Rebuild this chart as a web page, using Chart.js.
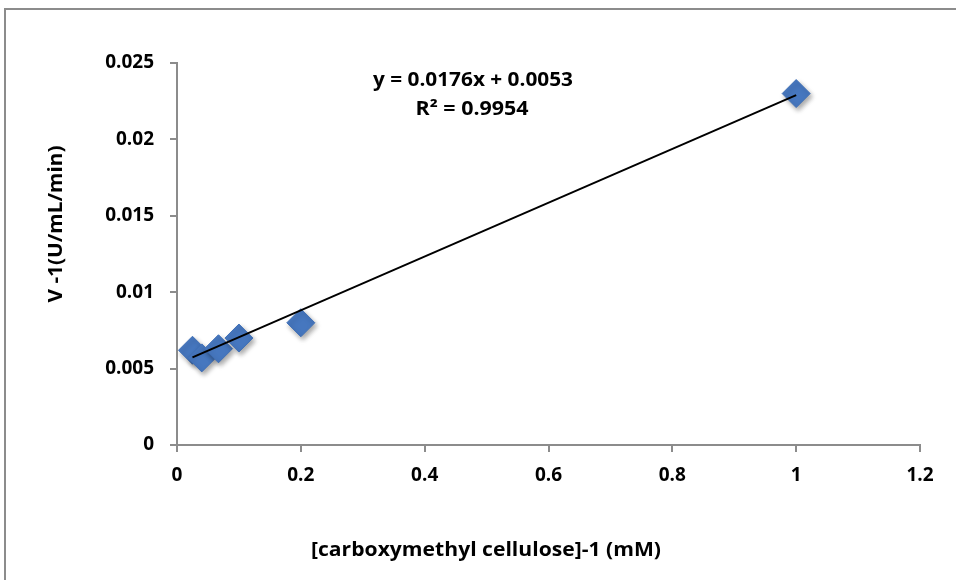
<!DOCTYPE html>
<html>
<head>
<meta charset="utf-8">
<script src="https://cdn.jsdelivr.net/npm/chart.js@4"></script>
<style>
  html, body { margin: 0; padding: 0; background: #fff; }
  #wrap { position: relative; width: 956px; height: 580px; }
  #frame {
    position: absolute; left: 4px; top: 8px; width: 1000px; height: 700px;
    border-left: 2px solid #8c8c8c; border-top: 2px solid #8c8c8c;
  }
  canvas { position: absolute; left: 0; top: 0; }
</style>
</head>
<body>
<div id="wrap">
  <div id="frame"></div>
  <canvas id="chart" width="956" height="580"></canvas>
</div>
<script>
// 1/[S] and 1/V
const substrateInv = [0.025, 0.04, 0.067, 0.1, 0.2, 1];
const velocityInv = [0.0062, 0.0057, 0.0063, 0.007, 0.008, 0.023];

// linear trendline as printed on the chart
const trendSlope = 0.0176;
const trendIntercept = 0.0053;
const equationLines = ['y = 0.0176x + 0.0053', 'R² = 0.9954'];

const xTickLabels = ['0', '0.2', '0.4', '0.6', '0.8', '1', '1.2'];
const yTickLabels = ['0', '0.005', '0.01', '0.015', '0.02', '0.025'];

const xTitle = '[carboxymethyl cellulose]-1 (mM)';
const yTitle = 'V -1(U/mL/min)';

const FONT = '"Open Sans", Lato, sans-serif';
const AXIS_GREY = '#8c8c8c';

const points = substrateInv.map((x, i) => ({ x: x, y: velocityInv[i] }));
const xMin = Math.min(...substrateInv);
const xMax = Math.max(...substrateInv);
const trend = [
  { x: xMin, y: trendSlope * xMin + trendIntercept },
  { x: xMax, y: trendSlope * xMax + trendIntercept },
];

const shadowPlugin = {
  id: 'markerShadow',
  beforeDatasetDraw(chart, args) {
    if (args.index !== 0) return;
    const ctx = chart.ctx;
    ctx.save();
    ctx.shadowColor = 'rgba(0,0,0,0.35)';
    ctx.shadowBlur = 5;
    ctx.shadowOffsetX = 2;
    ctx.shadowOffsetY = 3;
  },
  afterDatasetDraw(chart, args) {
    if (args.index !== 0) return;
    chart.ctx.restore();
  },
};

// text drawn a little wider, like the stretched original
function stretchedText(ctx, text, cx, cy, width) {
  const w = ctx.measureText(text).width;
  ctx.save();
  ctx.translate(cx, cy);
  ctx.scale(width / w, 1);
  ctx.fillText(text, 0, 0);
  ctx.restore();
}

const textPlugin = {
  id: 'freeText',
  afterDraw(chart) {
    const ctx = chart.ctx;
    ctx.save();
    ctx.fillStyle = '#000';
    ctx.font = 'bold 19px ' + FONT;
    ctx.textAlign = 'center';
    ctx.textBaseline = 'middle';
    stretchedText(ctx, equationLines[0], 473, 81, 200);
    stretchedText(ctx, equationLines[1], 472, 110, 113);
    stretchedText(ctx, xTitle, 486, 551, 350);
    ctx.translate(57, 224);
    ctx.rotate(-Math.PI / 2);
    stretchedText(ctx, yTitle, 0, 0, 157);
    ctx.restore();
  },
};

new Chart(document.getElementById('chart'), {
  type: 'scatter',
  data: {
    datasets: [
      {
        label: 'data',
        data: points,
        pointStyle: 'rectRot',
        pointRadius: 14,
        pointHoverRadius: 14,
        backgroundColor: '#4677bf',
        borderColor: '#3f6fb6',
        borderWidth: 1,
        order: 2,
      },
      {
        label: 'trend',
        type: 'line',
        data: trend,
        borderColor: '#000',
        borderWidth: 2,
        pointRadius: 0,
        fill: false,
        order: 1,
      },
    ],
  },
  options: {
    responsive: false,
    animation: false,
    events: [],
    layout: { padding: { top: 63, right: 36, bottom: 0, left: 0 } },
    plugins: {
      legend: { display: false },
      tooltip: { enabled: false },
    },
    scales: {
      x: {
        type: 'linear',
        min: 0,
        max: 1.2,
        afterFit: (scale) => { scale.height = 135; },
        afterBuildTicks: (scale) => {
          scale.ticks = xTickLabels.map((t) => ({ value: parseFloat(t) }));
        },
        ticks: {
          color: '#000',
          padding: 12,
          font: { family: FONT, size: 19, weight: 'bold' },
          callback: (v, i) => xTickLabels[i],
        },
        grid: { drawOnChartArea: false, color: AXIS_GREY, tickLength: 7, lineWidth: 2 },
        border: { color: AXIS_GREY, width: 2 },
      },
      y: {
        type: 'linear',
        min: 0,
        max: 0.025,
        afterFit: (scale) => { scale.width = 177; },
        afterBuildTicks: (scale) => {
          scale.ticks = yTickLabels.map((t) => ({ value: parseFloat(t) }));
        },
        ticks: {
          color: '#000',
          padding: 16,
          font: { family: FONT, size: 19, weight: 'bold' },
          callback: (v, i) => yTickLabels[i],
        },
        grid: { drawOnChartArea: false, color: AXIS_GREY, tickLength: 7, lineWidth: 2 },
        border: { color: AXIS_GREY, width: 2 },
      },
    },
  },
  plugins: [shadowPlugin, textPlugin],
});
</script>
</body>
</html>
